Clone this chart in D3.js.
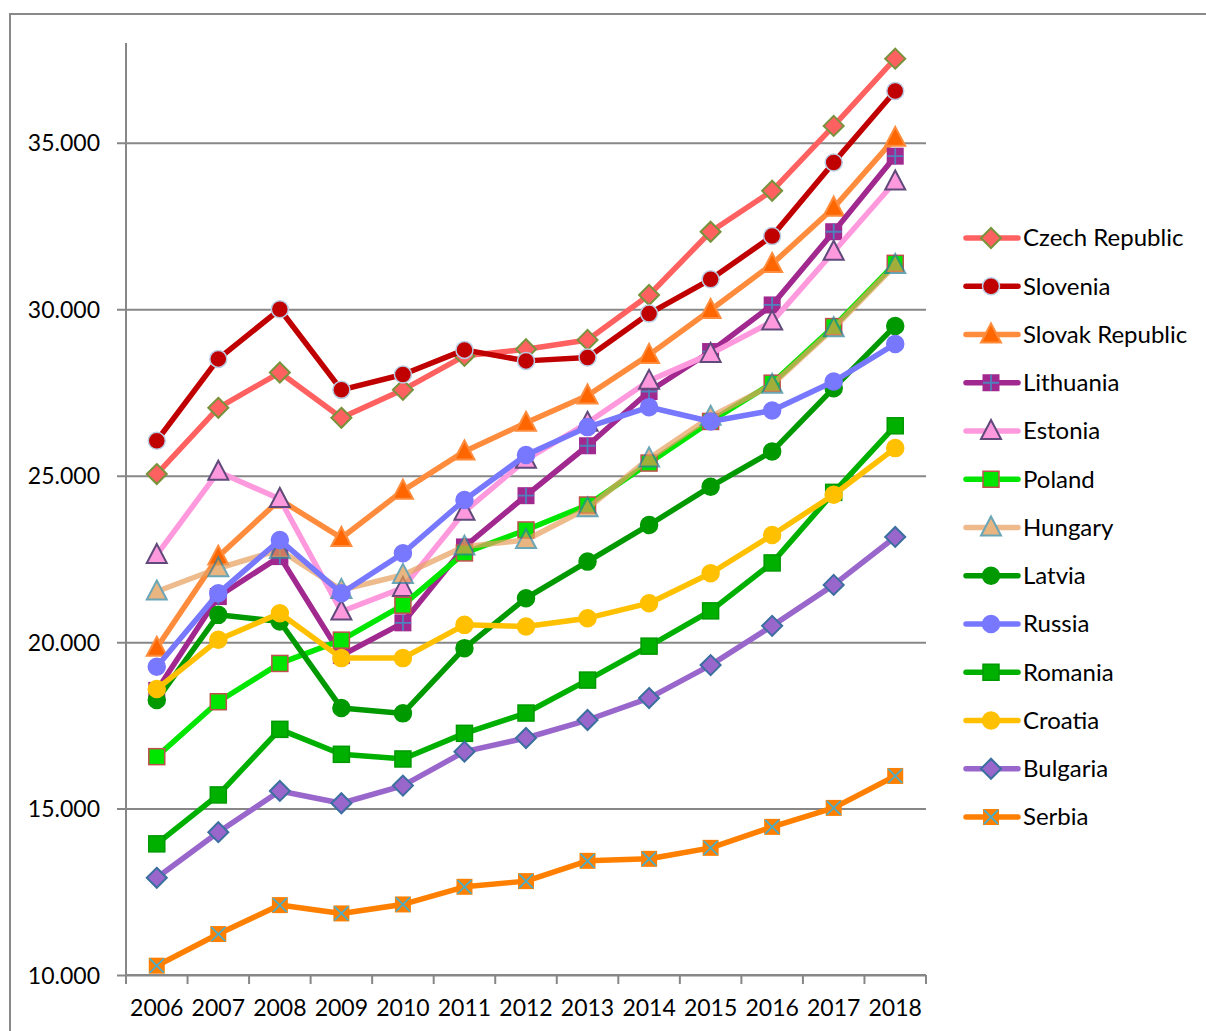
<!DOCTYPE html>
<html>
<head>
<meta charset="utf-8">
<script src="https://cdn.jsdelivr.net/npm/d3@7"></script>
<style>
  body { margin: 0; background: #fff; }
  text { font-family: Lato, "Open Sans", sans-serif; fill: #000; }
</style>
</head>
<body>
<div id="chart"></div>
<script>
// data
const years = ["2006","2007","2008","2009","2010","2011","2012","2013","2014","2015","2016","2017","2018"];
const yTicks = [10000, 15000, 20000, 25000, 30000, 35000];

const czech     = [25050, 27040, 28100, 26740, 27580, 28600, 28800, 29080, 30430, 32330, 33560, 35510, 37530];
const slovenia  = [26050, 28510, 30000, 27580, 28040, 28780, 28450, 28550, 29870, 30900, 32200, 34410, 36560];
const slovak    = [19830, 22570, 24280, 23130, 24550, 25730, 26590, 27410, 28630, 29980, 31360, 33050, 35150];
const lithuania = [18550, 21370, 22570, 19600, 20580, 22860, 24400, 25900, 27530, 28730, 30130, 32330, 34600];
const estonia   = [22620, 25120, 24300, 20920, 21630, 23920, 25480, 26590, 27850, 28660, 29630, 31730, 33840];
const poland    = [16560, 18210, 19360, 20060, 21110, 22680, 23370, 24120, 25380, 26630, 27780, 29480, 31380];
const hungary   = [21520, 22220, 22770, 21570, 22020, 22870, 23070, 24020, 25520, 26770, 27730, 29430, 31330];
const latvia    = [18260, 20820, 20620, 18020, 17860, 19820, 21320, 22420, 23520, 24670, 25730, 27630, 29500];
const russia    = [19260, 21470, 23070, 21470, 22670, 24270, 25620, 26460, 27060, 26630, 26960, 27830, 28960];
const romania   = [13940, 15410, 17380, 16630, 16490, 17260, 17870, 18860, 19880, 20940, 22380, 24500, 26500];
const croatia   = [18590, 20070, 20870, 19520, 19520, 20520, 20470, 20720, 21170, 22070, 23220, 24430, 25830];
const bulgaria  = [12920, 14290, 15530, 15160, 15690, 16710, 17120, 17660, 18320, 19310, 20490, 21720, 23160];
const serbia    = [10280, 11230, 12100, 11850, 12120, 12650, 12820, 13430, 13490, 13820, 14450, 15020, 15980];

const series = [
  { name: "Czech Republic",  values: czech,     line: "#FF6161", fill: "#FF6161", stroke: "#77933C", marker: "diamond" },
  { name: "Slovenia",        values: slovenia,  line: "#C00000", fill: "#C00000", stroke: "#B9CDE5", marker: "circle" },
  { name: "Slovak Republic", values: slovak,    line: "#FF8C3C", fill: "#FF6600", stroke: "#FF8C3C", marker: "triangle" },
  { name: "Lithuania",       values: lithuania, line: "#A0288F", fill: "#A0288F", stroke: "#A0288F", marker: "plus", cross: "#4F81BD" },
  { name: "Estonia",         values: estonia,   line: "#FF99DD", fill: "#FF99DD", stroke: "#604A7B", marker: "triangle" },
  { name: "Poland",          values: poland,    line: "#00E600", fill: "#00E600", stroke: "#C0504D", marker: "square" },
  { name: "Hungary",         values: hungary,   line: "#E8A060", fill: "#E09850", stroke: "#31849B", marker: "triangle", opacity: 0.72 },
  { name: "Latvia",          values: latvia,    line: "#009900", fill: "#009900", stroke: "#009900", marker: "circle" },
  { name: "Russia",          values: russia,    line: "#7878FF", fill: "#7878FF", stroke: "#7878FF", marker: "circle" },
  { name: "Romania",         values: romania,   line: "#00B000", fill: "#00B000", stroke: "#009900", marker: "square" },
  { name: "Croatia",         values: croatia,   line: "#FFC000", fill: "#FFC000", stroke: "#FFC000", marker: "circle" },
  { name: "Bulgaria",        values: bulgaria,  line: "#9966CC", fill: "#9966CC", stroke: "#3A6FA0", marker: "diamond" },
  { name: "Serbia",          values: serbia,    line: "#FF8000", fill: "#FF8000", stroke: "#FF8000", marker: "times", cross: "#4BACC6" }
];

const width = 1206, height = 1031;
const plot = { left: 126, right: 926, top: 43, bottom: 975 };

const svg = d3.select("#chart").append("svg")
    .attr("width", width)
    .attr("height", height);

// outer chart border
svg.append("rect")
    .attr("x", 10).attr("y", 14)
    .attr("width", 1210).attr("height", 1040)
    .attr("fill", "none")
    .attr("stroke", "#898989")
    .attr("stroke-width", 2);

const xBand = d3.scaleBand()
    .domain(years)
    .range([plot.left, plot.right]);
const xScale = d => xBand(d) + xBand.bandwidth() / 2;

const yScale = d3.scaleLinear()
    .domain([10000, 38000])
    .range([plot.bottom, plot.top]);

const fmt = v => d3.format(",")(v).replace(",", ".");

// gridlines + y axis
const yAxis = d3.axisLeft(yScale)
    .tickValues(yTicks)
    .tickSize(-(plot.right - plot.left))
    .tickPadding(26)
    .tickFormat(fmt);

const gy = svg.append("g")
    .attr("transform", `translate(${plot.left},0)`)
    .call(yAxis);
gy.select(".domain").remove();
gy.selectAll(".tick line")
    .attr("x1", -9)
    .attr("stroke", "#878787")
    .attr("stroke-width", 2);
gy.selectAll(".tick text")
    .style("font-size", "23px")
    .attr("dy", "0.35em");

svg.append("line")
    .attr("x1", plot.left).attr("x2", plot.left)
    .attr("y1", plot.top).attr("y2", plot.bottom)
    .attr("stroke", "#878787").attr("stroke-width", 2);

// x axis, ticks between categories
const gx = svg.append("g")
    .attr("transform", `translate(0,${plot.bottom})`);
gx.append("line")
    .attr("x1", plot.left).attr("x2", plot.right)
    .attr("stroke", "#878787").attr("stroke-width", 2);
gx.selectAll(".tk")
    .data(years.concat(["end"]))
    .join("line")
    .attr("x1", (d, i) => i < years.length ? xBand(d) : plot.right)
    .attr("x2", (d, i) => i < years.length ? xBand(d) : plot.right)
    .attr("y1", 0).attr("y2", 9)
    .attr("stroke", "#878787").attr("stroke-width", 2);
gx.selectAll(".lbl")
    .data(years)
    .join("text")
    .attr("x", d => xScale(d))
    .attr("y", 41)
    .attr("text-anchor", "middle")
    .style("font-size", "23px")
    .text(d => d);

// marker drawing
function drawMarker(g, s) {
  if (s.marker === "circle") {
    g.append("circle").attr("r", 8.5)
      .attr("fill", s.fill).attr("stroke", s.stroke).attr("stroke-width", 1.5);
  } else if (s.marker === "diamond") {
    g.append("path").attr("d", "M0,-10L10,0L0,10L-10,0Z")
      .attr("fill", s.fill).attr("stroke", s.stroke).attr("stroke-width", 2);
  } else if (s.marker === "triangle") {
    g.append("path").attr("d", "M0,-11L10,8L-10,8Z")
      .attr("fill", s.fill).attr("stroke", s.stroke).attr("stroke-width", 2);
  } else if (s.marker === "square") {
    g.append("rect").attr("x", -8).attr("y", -8).attr("width", 16).attr("height", 16)
      .attr("fill", s.fill).attr("stroke", s.stroke).attr("stroke-width", 1.5);
  } else if (s.marker === "plus") {
    g.append("rect").attr("x", -8.5).attr("y", -8.5).attr("width", 17).attr("height", 17)
      .attr("fill", s.fill);
    g.append("path").attr("d", "M-8,0H8M0,-8V8")
      .attr("stroke", s.cross).attr("stroke-width", 1.8);
  } else if (s.marker === "times") {
    g.append("rect").attr("x", -8).attr("y", -8).attr("width", 16).attr("height", 16)
      .attr("fill", s.fill);
    g.append("path").attr("d", "M-7,-7L7,7M7,-7L-7,7")
      .attr("stroke", s.cross).attr("stroke-width", 1.8);
  }
}

const lineGen = d3.line()
    .x((d, i) => xScale(years[i]))
    .y(d => yScale(d));

series.forEach(s => {
  const g = svg.append("g").attr("opacity", s.opacity || 1);
  g.append("path")
      .attr("d", lineGen(s.values))
      .attr("fill", "none")
      .attr("stroke", s.line)
      .attr("stroke-width", 5.5)
      .attr("stroke-linejoin", "round")
      .attr("stroke-linecap", "round");
  s.values.forEach((v, i) => {
    const m = g.append("g")
        .attr("transform", `translate(${xScale(years[i])},${yScale(v)})`);
    drawMarker(m, s);
  });
});

// legend
const legend = svg.append("g");
series.forEach((s, i) => {
  const y = 238 + i * 48.25;
  const g = legend.append("g").attr("opacity", s.opacity || 1);
  g.append("line")
      .attr("x1", 966).attr("x2", 1018)
      .attr("y1", y).attr("y2", y)
      .attr("stroke", s.line)
      .attr("stroke-width", 5.5)
      .attr("stroke-linecap", "round");
  drawMarker(g.append("g").attr("transform", `translate(991,${y})`), s);
  legend.append("text")
      .attr("x", 1023)
      .attr("y", y)
      .attr("dy", "0.35em")
      .style("font-size", "24px")
      .text(s.name);
});
</script>
</body>
</html>
